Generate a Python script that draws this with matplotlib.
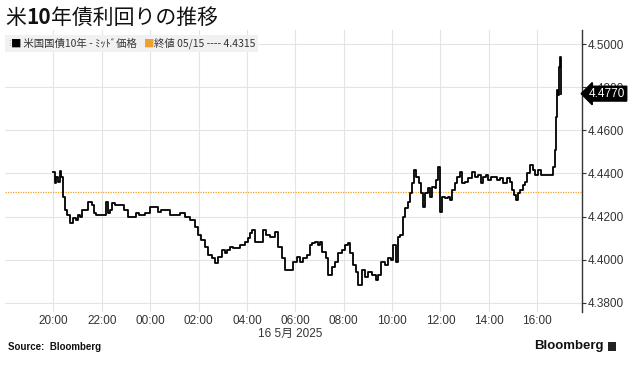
import matplotlib
matplotlib.use("Agg")
import matplotlib.pyplot as plt
from matplotlib.patches import Rectangle
from matplotlib.transforms import IdentityTransform, blended_transform_factory

# ---- data (minutes after 20:00 on 15 May, yield %) ----
minutes = [0, 4, 7, 12, 17, 20, 24, 29, 35, 41, 49, 56, 62, 66, 72, 76, 86, 96, 101, 106,
           116, 126, 131, 136, 141, 146, 153, 167, 175, 185, 198, 205, 212, 220, 227, 240,
           252, 260, 268, 277, 289, 302, 314, 326, 339, 351, 359, 366, 376, 384, 393, 401,
           408, 418, 426, 430, 438, 445, 455, 463, 475, 483, 488, 493, 500, 512, 520, 527,
           537, 545, 550, 557, 567, 574, 587, 594, 604, 612, 619, 629, 636, 641, 649, 656,
           661, 666, 676, 681, 691, 698, 706, 716, 723, 731, 736, 743, 750, 755, 765, 773,
           780, 790, 800, 805, 812, 822, 830, 837, 842, 850, 855, 859, 867, 872, 879, 884,
           889, 894, 899, 907, 912, 916, 921, 929, 934, 939, 946, 950, 954, 959, 964, 971,
           978, 983, 988, 996, 1001, 1008, 1013, 1021, 1028, 1038, 1045, 1053, 1060, 1065,
           1073, 1078, 1085, 1092, 1100, 1107, 1115, 1125, 1132, 1137, 1142, 1147, 1152,
           1157, 1164, 1169, 1174, 1182, 1189, 1194, 1202, 1209, 1219, 1231, 1239, 1244,
           1246, 1249, 1251, 1254, 1256, 1258, 1259]
yields = [4.4405, 4.4356, 4.4384, 4.4361, 4.4412, 4.4384, 4.4292, 4.4231, 4.4208, 4.4171,
          4.4194, 4.4185, 4.4208, 4.4199, 4.4231, 4.4231, 4.4269, 4.4255, 4.4218, 4.4208,
          4.4208, 4.4208, 4.4269, 4.4218, 4.4231, 4.4264, 4.4255, 4.4255, 4.4231, 4.4199,
          4.4199, 4.4218, 4.4208, 4.4208, 4.4218, 4.4245, 4.4245, 4.4222, 4.4231, 4.4231,
          4.4208, 4.4208, 4.4218, 4.4199, 4.4185, 4.4153, 4.4116, 4.4093, 4.4060, 4.4023,
          4.4009, 4.3986, 4.4014, 4.4046, 4.4032, 4.4046, 4.4060, 4.4055, 4.4055, 4.4069,
          4.4083, 4.4102, 4.4125, 4.4139, 4.4083, 4.4083, 4.4139, 4.4116, 4.4106, 4.4106,
          4.4130, 4.4060, 4.4009, 4.3954, 4.3954, 4.3991, 4.4014, 4.3991, 4.4009, 4.4023,
          4.4069, 4.4079, 4.4083, 4.4069, 4.4083, 4.4037, 4.4009, 4.3930, 4.3967, 4.3991,
          4.4032, 4.4046, 4.4069, 4.4079, 4.4032, 4.3977, 4.3944, 4.3884, 4.3954, 4.3921,
          4.3944, 4.3930, 4.3907, 4.3930, 4.3991, 4.3977, 4.4009, 4.4000, 4.4069, 4.3991,
          4.4106, 4.4116, 4.4199, 4.4241, 4.4269, 4.4310, 4.4356, 4.4417, 4.4384, 4.4356,
          4.4310, 4.4245, 4.4310, 4.4333, 4.4292, 4.4338, 4.4333, 4.4370, 4.4431, 4.4222,
          4.4292, 4.4287, 4.4292, 4.4278, 4.4324, 4.4356, 4.4384, 4.4407, 4.4356, 4.4361,
          4.4380, 4.4407, 4.4384, 4.4393, 4.4356, 4.4384, 4.4393, 4.4370, 4.4384, 4.4384,
          4.4370, 4.4380, 4.4356, 4.4380, 4.4361, 4.4324, 4.4301, 4.4278, 4.4310, 4.4324,
          4.4347, 4.4361, 4.4403, 4.4440, 4.4417, 4.4393, 4.4417, 4.4393, 4.4393, 4.4393,
          4.4431, 4.4509, 4.4662, 4.4787, 4.4764, 4.4894, 4.4940, 4.4780, 4.4770]

prev_close = 4.4315
last_value = 4.4770
tick_minutes = [0, 120, 240, 360, 480, 600, 720, 840, 960, 1080, 1200]
tick_labels = ["20:00", "22:00", "00:00", "02:00", "04:00", "06:00", "08:00",
               "10:00", "12:00", "14:00", "16:00"]
ytick_values = [4.38, 4.40, 4.42, 4.44, 4.46, 4.48, 4.50]

title_parts = ["米", "10", "年債利回りの推移"]
legend_series = "米国国債10年 - ﾐｯﾄﾞ価格"
legend_close = "終値 05/15 ---- 4.4315"
date_label = "16 5月 2025"

LAT = ["Liberation Sans", "Noto Sans CJK JP", "DejaVu Sans"]
CJK = ["Noto Sans CJK JP", "DejaVu Sans"]
TXT = "#333333"

W, H = 640, 369
fig = plt.figure(figsize=(W / 100, H / 100), dpi=100)
fig.patch.set_facecolor("white")

ax = fig.add_axes([5 / W, (H - 312) / H, (582 - 5) / W, (312 - 30) / H])
ax.set_facecolor("white")

ax.plot(minutes, yields, drawstyle="steps-post", color="black", lw=1.3, zorder=3)
ax.axhline(prev_close, color="#f0a030", lw=0.9, ls=(0, (1, 1)), zorder=2)

ax.set_xlim(-120, 1311)
ax.set_ylim(4.3758, 4.5065)

ax.set_xticks(tick_minutes)
ax.set_xticklabels(tick_labels)
ax.set_yticks(ytick_values)
ax.set_yticklabels([f"{v:.4f}" for v in ytick_values])
ax.yaxis.tick_right()
ax.tick_params(axis="y", direction="out", length=3, width=0.8, color="#333333",
               labelsize=8.5, labelcolor=TXT, pad=1)
ax.tick_params(axis="x", length=0, labelsize=8.5, labelcolor=TXT, pad=2)
for lab in ax.get_xticklabels() + ax.get_yticklabels():
    lab.set_family(LAT)

ax.grid(True, color="#e4e4e4", lw=0.8)
ax.set_axisbelow(True)
for s in ["left", "top", "bottom"]:
    ax.spines[s].set_visible(False)
ax.spines["right"].set_color("#333333")
ax.spines["right"].set_linewidth(1.0)

# last value tag
ax.annotate(f"{last_value:.4f}", xy=(1, last_value),
            xycoords=blended_transform_factory(ax.transAxes, ax.transData),
            xytext=(5, 0), textcoords="offset points", va="center", ha="left",
            color="white", fontsize=8.5, family=LAT, annotation_clip=False, zorder=10,
            bbox=dict(boxstyle="larrow,pad=0.12", fc="black", ec="black"))

renderer = fig.canvas.get_renderer()


def seq_text(x, y, pieces):
    for s, kw in pieces:
        t = fig.text(x, y, s, transform=IdentityTransform(), va="center", ha="left", **kw)
        bb = t.get_window_extent(renderer)
        x = bb.x1


# title
seq_text(5, H - 18, [
    (title_parts[0], dict(fontsize=15, family=CJK, color="#111111")),
    (title_parts[1], dict(fontsize=15, family=CJK, weight="bold", color="#111111")),
    (title_parts[2], dict(fontsize=15, family=CJK, color="#111111")),
])

# legend strip
fig.patches.append(Rectangle((5, H - 52), 253, 17, transform=IdentityTransform(),
                             fc="#f1f1f1", ec="none", zorder=5))
seq_text(8, H - 43.5, [
    ("⁝", dict(fontsize=6, family=["DejaVu Sans"], color="#888888", zorder=6)),
    ("■", dict(fontsize=7.5, family=CJK, color="black", zorder=6)),
    (" " + legend_series + "   ", dict(fontsize=7.5, family=CJK, color=TXT, zorder=6)),
    ("■", dict(fontsize=7.5, family=CJK, color="#f0a030", zorder=6)),
    (legend_close, dict(fontsize=7.5, family=CJK, color=TXT, zorder=6)),
])

# date label
fig.text(290, H - 334, date_label, transform=IdentityTransform(), ha="center", va="center",
         fontsize=8.5, family=LAT, color=TXT)

# footer
fig.text(8, H - 347, "Source:  Bloomberg", transform=IdentityTransform(), ha="left",
         va="center", fontsize=7, weight="bold", family=LAT, color="#111111")
fig.text(604, H - 346, "Bloomberg", transform=IdentityTransform(), ha="right",
         va="center", fontsize=9.5, weight="bold", family=LAT, color="#111111")
fig.patches.append(Rectangle((608, H - 351), 8, 9, transform=IdentityTransform(),
                             fc="#222222", ec="none"))

fig.savefig("out.png", dpi=100)
